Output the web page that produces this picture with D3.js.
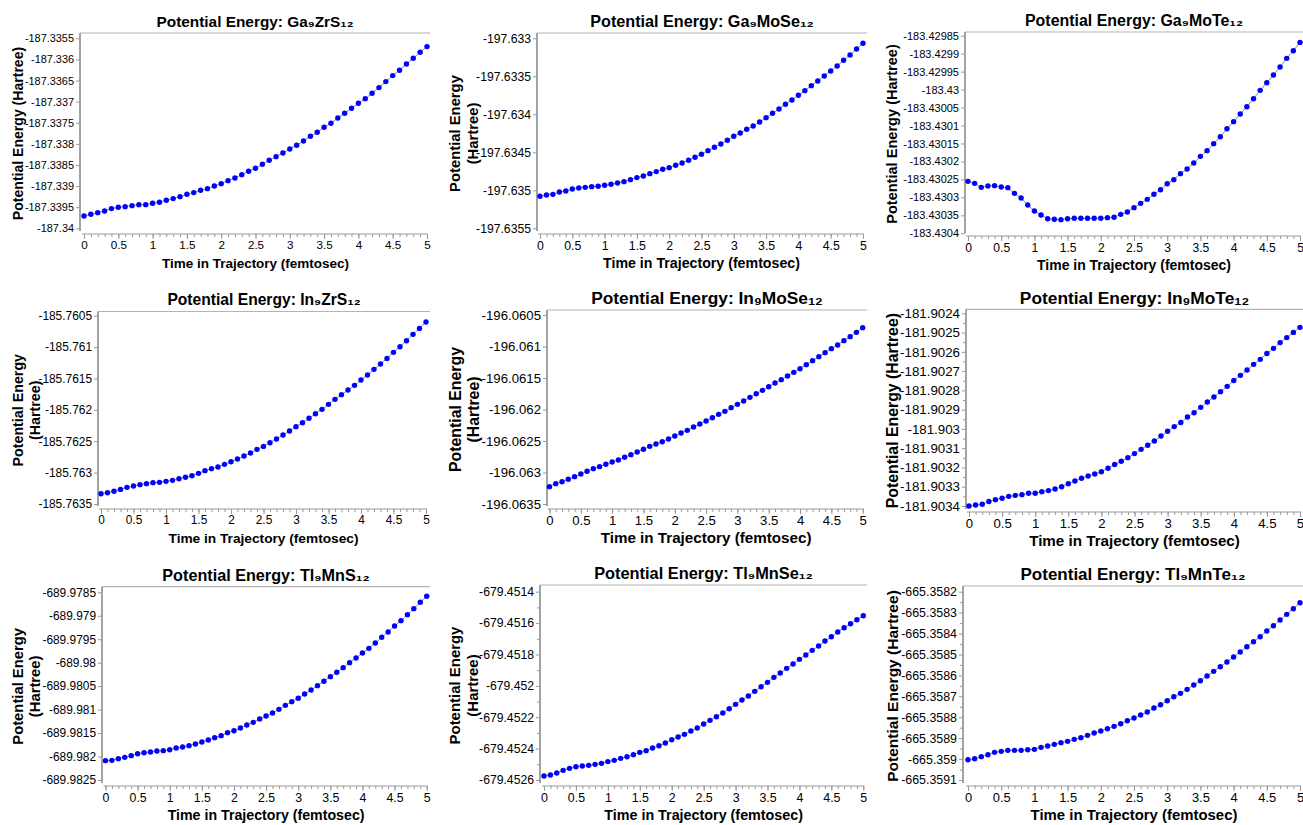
<!DOCTYPE html>
<html>
<head>
<meta charset="utf-8">
<script src="https://cdn.jsdelivr.net/npm/d3@7"></script>
<style>
  html, body { margin: 0; padding: 0; background: #ffffff; }
  svg { display: block; font-family: "Liberation Sans", Arial, sans-serif; }
</style>
</head>
<body>
<script>
// Time along the trajectory (femtoseconds)
const time = [0, 0.1, 0.2, 0.3, 0.4, 0.5, 0.6, 0.7, 0.8, 0.9, 1, 1.1, 1.2, 1.3, 1.4, 1.5, 1.6, 1.7, 1.8, 1.9,
  2, 2.1, 2.2, 2.3, 2.4, 2.5, 2.6, 2.7, 2.8, 2.9, 3, 3.1, 3.2, 3.3, 3.4, 3.5, 3.6, 3.7, 3.8, 3.9,
  4, 4.1, 4.2, 4.3, 4.4, 4.5, 4.6, 4.7, 4.8, 4.9, 5];

const xTickLabels = ["0", "0.5", "1", "1.5", "2", "2.5", "3", "3.5", "4", "4.5", "5"];
const xMinorTicks = [0, 0.1, 0.2, 0.3, 0.4, 0.5, 0.6, 0.7, 0.8, 0.9, 1, 1.1, 1.2, 1.3, 1.4, 1.5, 1.6, 1.7, 1.8, 1.9,
  2, 2.1, 2.2, 2.3, 2.4, 2.5, 2.6, 2.7, 2.8, 2.9, 3, 3.1, 3.2, 3.3, 3.4, 3.5, 3.6, 3.7, 3.8, 3.9,
  4, 4.1, 4.2, 4.3, 4.4, 4.5, 4.6, 4.7, 4.8, 4.9, 5];

// Potential energy (Hartree) for each system
const energyGa9ZrS12 = [-187.339708, -187.339669, -187.339629, -187.339590, -187.339534, -187.339503, -187.339487, -187.339463, -187.339440, -187.339440,
  -187.339408, -187.339384, -187.339337, -187.339297, -187.339250, -187.339195, -187.339155, -187.339100, -187.339061, -187.338997,
  -187.338942, -187.338871, -187.338808, -187.338729, -187.338650, -187.338579, -187.338484, -187.338390, -187.338303, -187.338216,
  -187.338121, -187.338034, -187.337932, -187.337821, -187.337726, -187.337608, -187.337513, -187.337387, -187.337276, -187.337158,
  -187.337040, -187.336929, -187.336803, -187.336668, -187.336526, -187.336384, -187.336258, -187.336108, -187.335974, -187.335832,
  -187.335697];

const energyGa9MoSe12 = [-197.635079, -197.635061, -197.635053, -197.635022, -197.635009, -197.634982, -197.634969, -197.634961, -197.634952, -197.634947,
  -197.634934, -197.634921, -197.634904, -197.634886, -197.634860, -197.634833, -197.634811, -197.634781, -197.634754, -197.634724,
  -197.634702, -197.634671, -197.634640, -197.634605, -197.634566, -197.634526, -197.634478, -197.634434, -197.634390, -197.634342,
  -197.634289, -197.634246, -197.634197, -197.634154, -197.634101, -197.634044, -197.633987, -197.633930, -197.633868, -197.633811,
  -197.633750, -197.633689, -197.633623, -197.633561, -197.633496, -197.633430, -197.633364, -197.633289, -197.633219, -197.633140,
  -197.633066];

const energyGa9MoTe12 = [-183.4302554, -183.4302609, -183.4302721, -183.4302683, -183.4302674, -183.4302711, -183.4302730, -183.4302888, -183.4303017, -183.4303212,
  -183.4303379, -183.4303491, -183.4303593, -183.4303611, -183.4303620, -183.4303593, -183.4303583, -183.4303583, -183.4303583, -183.4303583,
  -183.4303583, -183.4303565, -183.4303555, -183.4303472, -183.4303407, -183.4303286, -183.4303166, -183.4303055, -183.4302915, -183.4302786,
  -183.4302619, -183.4302507, -183.4302340, -183.4302210, -183.4302043, -183.4301858, -183.4301700, -183.4301505, -183.4301311, -183.4301088,
  -183.4300893, -183.4300680, -183.4300476, -183.4300253, -183.4300021, -183.4299808, -183.4299595, -183.4299372, -183.4299131, -183.4298917,
  -183.4298686];

const energyIn9ZrS12 = [-185.763336, -185.763320, -185.763298, -185.763267, -185.763235, -185.763213, -185.763192, -185.763176, -185.763160, -185.763155,
  -185.763139, -185.763123, -185.763097, -185.763075, -185.763049, -185.763012, -185.762969, -185.762937, -185.762911, -185.762868,
  -185.762826, -185.762783, -185.762736, -185.762688, -185.762629, -185.762582, -185.762523, -185.762465, -185.762401, -185.762337,
  -185.762268, -185.762205, -185.762135, -185.762061, -185.761992, -185.761912, -185.761833, -185.761758, -185.761684, -185.761610,
  -185.761525, -185.761445, -185.761355, -185.761270, -185.761180, -185.761084, -185.760994, -185.760898, -185.760797, -185.760702,
  -185.760601];

const energyIn9MoSe12 = [-196.063225, -196.063177, -196.063146, -196.063108, -196.063066, -196.063024, -196.062981, -196.062939, -196.062907, -196.062870,
  -196.062833, -196.062802, -196.062759, -196.062717, -196.062675, -196.062632, -196.062585, -196.062548, -196.062511, -196.062468,
  -196.062421, -196.062373, -196.062331, -196.062278, -196.062230, -196.062183, -196.062130, -196.062077, -196.062029, -196.061971,
  -196.061918, -196.061865, -196.061807, -196.061749, -196.061696, -196.061638, -196.061579, -196.061526, -196.061468, -196.061410,
  -196.061352, -196.061288, -196.061225, -196.061161, -196.061098, -196.061034, -196.060976, -196.060907, -196.060844, -196.060775,
  -196.060701];

const energyIn9MoTe12 = [-181.903400, -181.903395, -181.903391, -181.903377, -181.903367, -181.903360, -181.903350, -181.903345, -181.903341, -181.903334,
  -181.903334, -181.903326, -181.903320, -181.903312, -181.903300, -181.903284, -181.903270, -181.903256, -181.903244, -181.903234,
  -181.903222, -181.903204, -181.903185, -181.903168, -181.903149, -181.903128, -181.903106, -181.903085, -181.903063, -181.903037,
  -181.903012, -181.902988, -181.902967, -181.902938, -181.902916, -181.902888, -181.902860, -181.902834, -181.902807, -181.902779,
  -181.902749, -181.902722, -181.902694, -181.902665, -181.902639, -181.902609, -181.902582, -181.902552, -181.902526, -181.902499,
  -181.902473];

const energyTl9MnS12 = [-689.982088, -689.982081, -689.982045, -689.982017, -689.981981, -689.981939, -689.981918, -689.981903, -689.981882, -689.981875,
  -689.981854, -689.981818, -689.981797, -689.981768, -689.981733, -689.981690, -689.981648, -689.981598, -689.981555, -689.981491,
  -689.981449, -689.981392, -689.981328, -689.981271, -689.981200, -689.981136, -689.981072, -689.980994, -689.980909, -689.980830,
  -689.980759, -689.980667, -689.980582, -689.980489, -689.980397, -689.980298, -689.980205, -689.980106, -689.979999, -689.979900,
  -689.979793, -689.979694, -689.979580, -689.979459, -689.979345, -689.979218, -689.979104, -689.978976, -689.978848, -689.978713,
  -689.978585];

const energyTl9MnSe12 = [-679.4525746, -679.4525682, -679.4525555, -679.4525385, -679.4525257, -679.4525151, -679.4525109, -679.4525066, -679.4525002, -679.4524939,
  -679.4524832, -679.4524747, -679.4524620, -679.4524514, -679.4524386, -679.4524238, -679.4524131, -679.4523962, -679.4523813, -679.4523643,
  -679.4523431, -679.4523261, -679.4523091, -679.4522878, -679.4522687, -679.4522432, -679.4522199, -679.4521965, -679.4521731, -679.4521455,
  -679.4521179, -679.4520903, -679.4520648, -679.4520351, -679.4520053, -679.4519777, -679.4519459, -679.4519183, -679.4518885, -679.4518609,
  -679.4518312, -679.4518036, -679.4517738, -679.4517462, -679.4517144, -679.4516867, -679.4516570, -679.4516294, -679.4516039, -679.4515784,
  -679.4515529];

const energyTl9MnTe12 = [-665.3590029, -665.3589981, -665.3589885, -665.3589790, -665.3589678, -665.3589630, -665.3589583, -665.3589583, -665.3589583, -665.3589551,
  -665.3589535, -665.3589439, -665.3589376, -665.3589296, -665.3589216, -665.3589153, -665.3589057, -665.3588977, -665.3588866, -665.3588754,
  -665.3588659, -665.3588547, -665.3588436, -665.3588308, -665.3588165, -665.3588037, -665.3587894, -665.3587751, -665.3587560, -665.3587400,
  -665.3587209, -665.3587018, -665.3586859, -665.3586667, -665.3586460, -665.3586253, -665.3586030, -665.3585807, -665.3585584, -665.3585361,
  -665.3585122, -665.3584883, -665.3584628, -665.3584390, -665.3584151, -665.3583880, -665.3583625, -665.3583354, -665.3583083, -665.3582812,
  -665.3582526];

// Y tick labels per panel (top to bottom)
const yTicksGa9ZrS12 = ["-187.3355", "-187.336", "-187.3365", "-187.337", "-187.3375", "-187.338", "-187.3385", "-187.339", "-187.3395", "-187.34"];
const yTicksGa9MoSe12 = ["-197.633", "-197.6335", "-197.634", "-197.6345", "-197.635", "-197.6355"];
const yTicksGa9MoTe12 = ["-183.42985", "-183.4299", "-183.42995", "-183.43", "-183.43005", "-183.4301", "-183.43015", "-183.4302", "-183.43025", "-183.4303", "-183.43035", "-183.4304"];
const yTicksIn9ZrS12 = ["-185.7605", "-185.761", "-185.7615", "-185.762", "-185.7625", "-185.763", "-185.7635"];
const yTicksIn9MoSe12 = ["-196.0605", "-196.061", "-196.0615", "-196.062", "-196.0625", "-196.063", "-196.0635"];
const yTicksIn9MoTe12 = ["-181.9024", "-181.9025", "-181.9026", "-181.9027", "-181.9028", "-181.9029", "-181.903", "-181.9031", "-181.9032", "-181.9033", "-181.9034"];
const yTicksTl9MnS12 = ["-689.9785", "-689.979", "-689.9795", "-689.98", "-689.9805", "-689.981", "-689.9815", "-689.982", "-689.9825"];
const yTicksTl9MnSe12 = ["-679.4514", "-679.4516", "-679.4518", "-679.452", "-679.4522", "-679.4524", "-679.4526"];
const yTicksTl9MnTe12 = ["-665.3582", "-665.3583", "-665.3584", "-665.3585", "-665.3586", "-665.3587", "-665.3588", "-665.3589", "-665.359", "-665.3591"];

const formulas = ["Ga₉ZrS₁₂", "Ga₉MoSe₁₂", "Ga₉MoTe₁₂", "In₉ZrS₁₂", "In₉MoSe₁₂", "In₉MoTe₁₂", "Tl₉MnS₁₂", "Tl₉MnSe₁₂", "Tl₉MnTe₁₂"];
const series = [energyGa9ZrS12, energyGa9MoSe12, energyGa9MoTe12, energyIn9ZrS12, energyIn9MoSe12, energyIn9MoTe12, energyTl9MnS12, energyTl9MnSe12, energyTl9MnTe12];
const yTickSets = [yTicksGa9ZrS12, yTicksGa9MoSe12, yTicksGa9MoTe12, yTicksIn9ZrS12, yTicksIn9MoSe12, yTicksIn9MoTe12, yTicksTl9MnS12, yTicksTl9MnSe12, yTicksTl9MnTe12];
const yMinorPerMajor = [0, 0, 0, 0, 0, 1, 0, 1, 1];
const yTitleLines = [
  ["Potential Energy (Hartree)"],
  ["Potential Energy", "(Hartree)"],
  ["Potential Energy (Hartree)"],
  ["Potential Energy", "(Hartree)"],
  ["Potential Energy", "(Hartree)"],
  ["Potential Energy (Hartree)"],
  ["Potential Energy", "(Hartree)"],
  ["Potential Energy", "(Hartree)"],
  ["Potential Energy (Hartree)"]
];

// Frame geometry and text sizes of each panel
const layout = [
  { axisX: 80,  top: 33,  right: 430,  xAxisY: 234, x0: 84,  x5: 427,  yTop: 38.3,  yBot: 228.3, s: 0.95, tick: 10.9, titleX: [18] },
  { axisX: 537, top: 33,  right: 867,  xAxisY: 234, x0: 540, x5: 863, yTop: 38.3,  yBot: 228.3, s: 1.0,  tick: 12.2, titleX: [455, 473] },
  { axisX: 965, top: 32,  right: 1303, xAxisY: 236, x0: 968, x5: 1300, yTop: 35.7, yBot: 233.3, s: 0.985, tick: 11.0, titleX: [892] },
  { axisX: 98,  top: 311.5, right: 430, xAxisY: 509, x0: 101, x5: 426, yTop: 315.7, yBot: 504, s: 0.965, tick: 11.9, titleX: [18, 35] },
  { axisX: 547, top: 310, right: 867,  xAxisY: 509, x0: 549.5, x5: 862.7, yTop: 315, yBot: 504, s: 1.07, tick: 13.2, titleX: [455, 473] },
  { axisX: 966, top: 309.3, right: 1303, xAxisY: 512, x0: 969, x5: 1300, yTop: 313.3, yBot: 506, s: 1.07, tick: 13.3, titleX: [892] },
  { axisX: 102, top: 586.7, right: 430, xAxisY: 786, x0: 105.5, x5: 426.7, yTop: 592.3, yBot: 780, s: 1.0, tick: 11.9, titleX: [18, 35] },
  { axisX: 540, top: 585, right: 867,  xAxisY: 786, x0: 544, x5: 863.3, yTop: 591.7, yBot: 780, s: 1.01, tick: 12.2, titleX: [455, 473] },
  { axisX: 963, top: 586, right: 1303, xAxisY: 786, x0: 968, x5: 1300, yTop: 591.7, yBot: 780, s: 1.05, tick: 12.4, titleX: [892] }
];

const svg = d3.select("body").append("svg")
  .attr("width", 1303)
  .attr("height", 825);

const frameGrey = "#b4b4b4";
const axisGrey = "#999999";

series.forEach((values, i) => {
  const L = layout[i];
  const labels = yTickSets[i];
  const tickVals = labels.map(Number);
  const g = svg.append("g");

  const x = d3.scaleLinear().domain([0, 5]).range([L.x0, L.x5]);
  const y = d3.scaleLinear()
    .domain([tickVals[tickVals.length - 1], tickVals[0]])
    .range([L.yBot, L.yTop]);

  const tickFont = L.tick;
  const xTickFont = 12.3 * L.s;
  const labelFont = 14.2 * L.s;
  const yLabelFont = 14.8 * L.s;
  const titleFont = 16.2 * L.s;

  // top border of the frame
  g.append("line")
    .attr("x1", L.axisX).attr("x2", L.right)
    .attr("y1", L.top).attr("y2", L.top)
    .attr("stroke", frameGrey).attr("stroke-width", 1.2);

  // y axis
  const yAxis = d3.axisLeft(y)
    .tickValues(tickVals)
    .tickFormat((d, j) => labels[j])
    .tickSize(4)
    .tickPadding(2);
  const ya = g.append("g")
    .attr("transform", `translate(${L.axisX},0)`)
    .call(yAxis);
  ya.select(".domain").remove();
  ya.selectAll(".tick line").attr("stroke", axisGrey);
  ya.selectAll(".tick text")
    .attr("font-family", "'Liberation Sans', Arial, sans-serif")
    .attr("font-size", tickFont)
    .attr("fill", "#000");

  if (yMinorPerMajor[i] > 0) {
    const minor = [];
    for (let k = 0; k < tickVals.length - 1; k++) {
      minor.push((tickVals[k] + tickVals[k + 1]) / 2);
    }
    const ym = g.append("g")
      .attr("transform", `translate(${L.axisX},0)`)
      .call(d3.axisLeft(y).tickValues(minor).tickFormat("").tickSize(3));
    ym.select(".domain").remove();
    ym.selectAll(".tick line").attr("stroke", axisGrey);
  }

  g.append("line")
    .attr("x1", L.axisX).attr("x2", L.axisX)
    .attr("y1", L.top).attr("y2", L.xAxisY - 3)
    .attr("stroke", axisGrey).attr("stroke-width", 1.8);

  // x axis
  const xa = g.append("g")
    .attr("transform", `translate(0,${L.xAxisY})`)
    .call(d3.axisBottom(x)
      .tickValues(xTickLabels.map(Number))
      .tickFormat((d, j) => xTickLabels[j])
      .tickSize(5)
      .tickPadding(2));
  xa.select(".domain").remove();
  xa.selectAll(".tick line").attr("stroke", axisGrey);
  xa.selectAll(".tick text")
    .attr("font-family", "'Liberation Sans', Arial, sans-serif")
    .attr("font-size", xTickFont)
    .attr("fill", "#000");

  const xm = g.append("g")
    .attr("transform", `translate(0,${L.xAxisY})`)
    .call(d3.axisBottom(x).tickValues(xMinorTicks).tickFormat("").tickSize(3));
  xm.select(".domain").remove();
  xm.selectAll(".tick line").attr("stroke", axisGrey);

  g.append("line")
    .attr("x1", x(0) - 2).attr("x2", x(5) + 1)
    .attr("y1", L.xAxisY).attr("y2", L.xAxisY)
    .attr("stroke", axisGrey).attr("stroke-width", 1.2);

  // connecting line and markers
  const pts = time.map((t, k) => [t, values[k]]);
  g.append("path")
    .datum(pts)
    .attr("fill", "none")
    .attr("stroke", "#8a8a8a")
    .attr("stroke-width", 1)
    .attr("d", d3.line().x(d => x(d[0])).y(d => y(d[1])));

  g.selectAll("circle.pt")
    .data(pts)
    .join("circle")
    .attr("class", "pt")
    .attr("cx", d => x(d[0]))
    .attr("cy", d => y(d[1]))
    .attr("r", 2.7)
    .attr("fill", "#0000ff");

  // panel title
  const cx = (L.axisX + Math.min(L.right, 1303)) / 2;
  g.append("text")
    .attr("x", cx)
    .attr("y", L.top - 12 + titleFont * 0.36)
    .attr("text-anchor", "middle")
    .attr("font-weight", "bold")
    .attr("font-size", titleFont)
    .attr("fill", "#000")
    .text("Potential Energy: " + formulas[i]);

  // x axis title
  g.append("text")
    .attr("x", (L.x0 + L.x5) / 2)
    .attr("y", L.xAxisY + 29 + labelFont * 0.36)
    .attr("text-anchor", "middle")
    .attr("font-weight", "bold")
    .attr("font-size", labelFont)
    .attr("fill", "#000")
    .text("Time in Trajectory (femtosec)");

  // y axis title (one or two lines)
  const cy = (L.top + L.xAxisY) / 2;
  yTitleLines[i].forEach((line, j) => {
    const tx = L.titleX[j];
    g.append("text")
      .attr("transform", `translate(${tx + yLabelFont * 0.36},${cy}) rotate(-90)`)
      .attr("text-anchor", "middle")
      .attr("font-weight", "bold")
      .attr("font-size", yLabelFont)
      .attr("fill", "#000")
      .text(line);
  });
});
</script>
</body>
</html>
